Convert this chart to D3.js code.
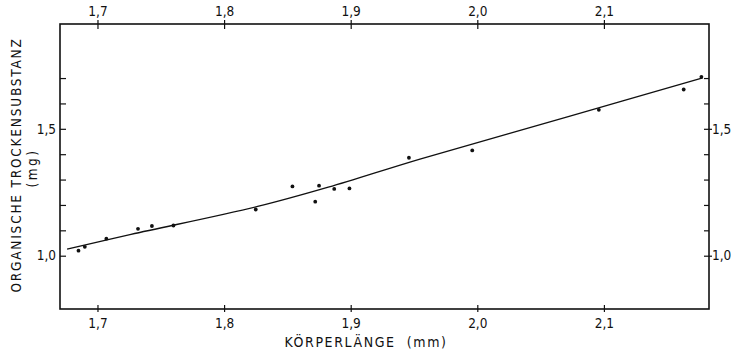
<!DOCTYPE html>
<html>
<head>
<meta charset="utf-8">
<script src="https://cdn.jsdelivr.net/npm/d3@7"></script>
<style>
  body { margin: 0; background: #fff; }
  text { font-family: "Liberation Sans Narrow", "DejaVu Sans Condensed", "Liberation Sans", sans-serif; fill: #111; }
</style>
</head>
<body>
<div id="chart"></div>
<script>
// Körperlänge (mm) vs organische Trockensubstanz (mg)
const lengths = [1.685, 1.690, 1.707, 1.732, 1.743, 1.760, 1.825, 1.854, 1.872, 1.875, 1.887, 1.899, 1.946, 1.996, 2.096, 2.163, 2.177];
const masses  = [1.020, 1.035, 1.067, 1.106, 1.117, 1.119, 1.182, 1.273, 1.213, 1.276, 1.263, 1.265, 1.386, 1.415, 1.575, 1.655, 1.705];

// fitted curve
const fitX = [1.676, 1.7265, 1.8265, 1.8823, 1.9547, 2.0732, 2.178];
const fitY = [1.026, 1.084, 1.194, 1.270, 1.381, 1.550, 1.701];

const xTicks = [1.7, 1.8, 1.9, 2.0, 2.1];
const yTicks = [1.0, 1.1, 1.2, 1.3, 1.4, 1.5, 1.6, 1.7];
const yLabels = [1.0, 1.5];

const width = 731, height = 350;
const plotLeft = 60, plotRight = 709, plotTop = 24, plotBottom = 309;
const fmt = d => d3.format(".1f")(d).replace(".", ",");

const svg = d3.select("#chart").append("svg")
    .attr("width", width).attr("height", height);

const x = d3.scaleLinear().domain([1.6704, 2.183]).range([plotLeft, plotRight]);
const y = d3.scaleLinear().domain([0.79, 1.913]).range([plotBottom, plotTop]);

// frame
svg.append("rect")
    .attr("x", plotLeft).attr("y", plotTop)
    .attr("width", plotRight - plotLeft).attr("height", plotBottom - plotTop)
    .attr("fill", "none").attr("stroke", "#111").attr("stroke-width", 1.6);

function styleAxis(g) {
    g.select(".domain").remove();
    g.selectAll("line").attr("stroke", "#111").attr("stroke-width", 1.2);
    g.selectAll("text").attr("font-size", 13.5).attr("font-family", null).attr("fill", "#111");
}

// bottom axis, ticks cross the frame line
const xb = svg.append("g").attr("transform", `translate(0,${plotBottom})`)
    .call(d3.axisBottom(x).tickValues(xTicks).tickFormat(fmt).tickSize(3).tickPadding(6));
styleAxis(xb);
xb.selectAll(".tick line").attr("y1", -4);

const xt = svg.append("g").attr("transform", `translate(0,${plotTop})`)
    .call(d3.axisTop(x).tickValues(xTicks).tickFormat(fmt).tickSize(4).tickPadding(4));
styleAxis(xt);
xt.selectAll(".tick line").attr("y1", 5);

// left axis, ticks inward
const yl = svg.append("g").attr("transform", `translate(${plotLeft},0)`)
    .call(d3.axisRight(y).tickValues(yTicks).tickSize(6).tickFormat(() => ""));
styleAxis(yl);
svg.append("g").selectAll("text").data(yLabels).join("text")
    .attr("x", plotLeft - 4).attr("y", d => y(d)).attr("dy", "0.35em")
    .attr("text-anchor", "end").attr("font-size", 13.5).text(fmt);

// right axis, ticks inward
const yr = svg.append("g").attr("transform", `translate(${plotRight},0)`)
    .call(d3.axisLeft(y).tickValues(yTicks).tickSize(5).tickFormat(() => ""));
styleAxis(yr);
yr.selectAll(".tick line").attr("x1", d => yLabels.includes(d) ? 3 : 0);
svg.append("g").selectAll("text").data(yLabels).join("text")
    .attr("x", plotRight + 3).attr("y", d => y(d)).attr("dy", "0.35em")
    .attr("text-anchor", "start").attr("font-size", 13.5).text(fmt);

// fitted curve
const line = d3.line()
    .x((d, i) => x(fitX[i]))
    .y(d => y(d))
    .curve(d3.curveCatmullRom);
svg.append("path")
    .datum(fitY)
    .attr("d", line)
    .attr("fill", "none").attr("stroke", "#111").attr("stroke-width", 1.3);

// measured points
svg.append("g").selectAll("circle").data(lengths).join("circle")
    .attr("cx", d => x(d))
    .attr("cy", (d, i) => y(masses[i]))
    .attr("r", 1.9)
    .attr("fill", "#111");

// axis titles
svg.append("text")
    .attr("x", 366).attr("y", 347)
    .attr("text-anchor", "middle").attr("font-size", 14)
    .attr("letter-spacing", 1.6)
    .style("white-space", "pre")
    .text("KÖRPERLÄNGE  (mm)");

svg.append("text")
    .attr("transform", "translate(21,165) rotate(-90)")
    .attr("text-anchor", "middle").attr("font-size", 13.5)
    .attr("letter-spacing", 1.8)
    .text("ORGANISCHE TROCKENSUBSTANZ");

svg.append("text")
    .attr("transform", "translate(37,168) rotate(-90)")
    .attr("text-anchor", "middle").attr("font-size", 13.5)
    .attr("letter-spacing", 2.5)
    .text("(mg)");
</script>
</body>
</html>
